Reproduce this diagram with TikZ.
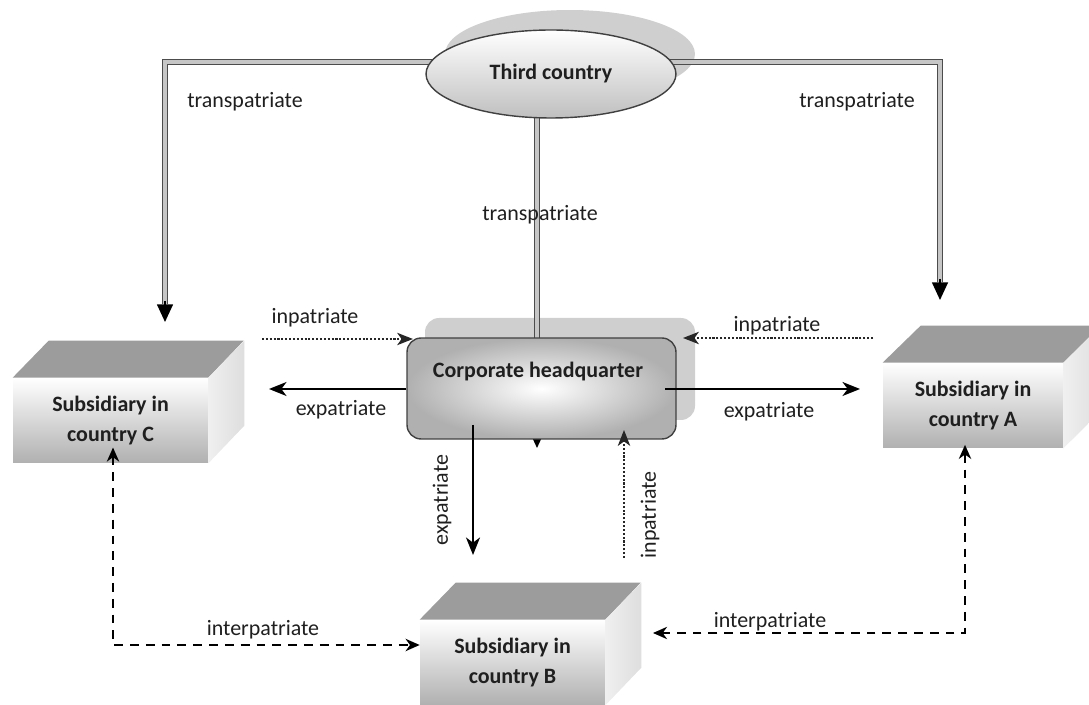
\documentclass[tikz,border=0pt]{standalone}
\usepackage{fontspec}
\setmainfont{Carlito}
\usetikzlibrary{arrows.meta,shapes.geometric}
\colorlet{facegray}{gray!78}
\colorlet{shadowgray}{gray!38}
\colorlet{txtgray}{black!88}

\begin{document}
\begin{tikzpicture}[x=0.02cm, y=-0.02cm, font=\fontsize{12.5}{15}\selectfont, text=txtgray,
  front/.style={rectangle, inner sep=0pt, top color=white, bottom color=gray!62, font=\fontsize{12.5}{17}\selectfont\bfseries, align=center},
  tpline/.style={draw=black!70, double=gray!45, double distance=2.2pt, line width=0.7pt},
  tptip/.style={-{Triangle[length=10pt,width=9pt]}, line width=1pt},
  expline/.style={-{Stealth[length=10pt,width=8pt,inset=3pt]}, line width=1.1pt},
  inpline/.style={-{Stealth[length=9pt,width=7pt,inset=2.5pt]}, densely dotted, line width=1.2pt, draw=black!85},
  intline/.style={{Stealth[length=8pt,width=7pt,inset=2.5pt]}-{Stealth[length=8pt,width=7pt,inset=2.5pt]}, dash pattern=on 5pt off 4pt, line width=1.1pt},
]
\useasboundingbox (0,0) rectangle (1089,705);
\clip (0,0) rectangle (1089,705);

% shadows
\node[ellipse, fill=shadowgray, minimum width=5cm, minimum height=1.76cm] (thirdshadow) at (570,54) {};
\fill[shadowgray, rounded corners=8pt] (425,318) rectangle (695,420);

% transpatriate lines
\coordinate (tpL) at (165,62);
\coordinate (tpLtip) at (165,322);
\coordinate (tpR) at (940,62);
\coordinate (tpRtip) at (940,300);
\coordinate (tpCtip) at (537,448);
\draw[tpline, shorten >=10pt] (551,62) -- (tpL) -- (tpLtip);
\draw[tptip] ([yshift=12pt]tpLtip) -- (tpLtip);
\draw[tpline, shorten >=10pt] (551,62) -- (tpR) -- (tpRtip);
\draw[tptip] ([yshift=12pt]tpRtip) -- (tpRtip);
\draw[tpline, shorten >=10pt] (537,74) -- (tpCtip);
\draw[tptip] ([yshift=12pt]tpCtip) -- (tpCtip);

% third country
\node[ellipse, draw=black!75, thick, top color=white, bottom color=gray!50, minimum width=5cm, minimum height=1.76cm, font=\fontsize{12.5}{15}\selectfont\bfseries] (third) at (551,74) {Third country};

% headquarter
\node[rounded corners=8pt, draw=black!75, thick, inner color=white, outer color=gray!62, minimum width=5.38cm, minimum height=2.02cm] (hq) at (541.5,388.5) {};
\node[font=\fontsize{12.5}{15}\selectfont\bfseries] (hqlabel) at (538,372) {Corporate headquarter};

% subsidiaries
\node[front, minimum width=3.9cm, minimum height=1.7cm] (subC) at (110.5,420.5) {Subsidiary in\\country C};
\fill[facegray] (subC.north west) -- ++(36,-37) -- ++(195,0) -- (subC.north east) -- cycle;
\shade[left color=gray!12, right color=gray!26] (subC.north east) -- ++(36,-37) -- ++(0,85) -- (subC.south east) -- cycle;

\node[front, minimum width=3.6cm, minimum height=1.7cm] (subA) at (973,405.5) {Subsidiary in\\country A};
\fill[facegray] (subA.north west) -- ++(38,-37) -- ++(180,0) -- (subA.north east) -- cycle;
\shade[left color=gray!12, right color=gray!26] (subA.north east) -- ++(38,-37) -- ++(0,85) -- (subA.south east) -- cycle;

\node[front, minimum width=3.7cm, minimum height=1.7cm] (subB) at (512.5,662.5) {Subsidiary in\\country B};
\fill[facegray] (subB.north west) -- ++(36,-37) -- ++(185,0) -- (subB.north east) -- cycle;
\shade[left color=gray!12, right color=gray!26] (subB.north east) -- ++(36,-37) -- ++(0,85) -- (subB.south east) -- cycle;

% expatriate / inpatriate
\coordinate (expLend) at (269,389);
\coordinate (expRstart) at (665,389);
\coordinate (expRend) at (860,389);
\coordinate (expDstart) at (473,425);
\coordinate (expDend) at (473,555);
\draw[expline] (expLend -| hq.west) -- (expLend);
\draw[expline] (expRstart) -- (expRend);
\draw[expline] (expDstart) -- (expDend);

\coordinate (inLstart) at (262,339);
\coordinate (inLend) at (413,339);
\coordinate (inRstart) at (873,338);
\coordinate (inRend) at (683,338);
\coordinate (inUstart) at (624,558);
\coordinate (inUend) at (624,430);
\draw[inpline] (inLstart) -- (inLend);
\draw[inpline] (inRstart) -- (inRend);
\draw[inpline] (inUstart) -- (inUend);

% interpatriate
\coordinate (intL) at (113,645);
\coordinate (intR) at (965,633);
\draw[intline] ([yshift=9pt]subC.south -| intL) -- (intL) -- (intL -| subB.west);
\draw[intline] ([yshift=2pt]subA.south -| intR) -- (intR) -- (653,633);

% labels
\node (transL) at (245,102) {transpatriate};
\node (transR) at (857,102) {transpatriate};
\node (transC) at (540,215) {transpatriate};
\node (inLlab) at (315,318) {inpatriate};
\node (inRlab) at (777,326) {inpatriate};
\node (expLlab) at (341,410) {expatriate};
\node (expRlab) at (769,412) {expatriate};
\node[rotate=90] (expDlab) at (442,500) {expatriate};
\node[rotate=90] (inUlab) at (650,515) {inpatriate};
\node (intLlab) at (263,630) {interpatriate};
\node (intRlab) at (770,622) {interpatriate};
\end{tikzpicture}
\end{document}
